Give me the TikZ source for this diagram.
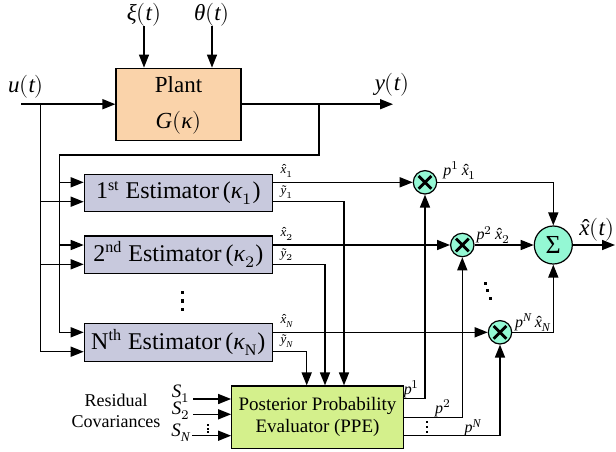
\documentclass[tikz,border=0pt]{standalone}
\usepackage{fontspec}
\usepackage{unicode-math}
\setmainfont{Liberation Serif}
\setmathfont{Latin Modern Math}
\setmathfont[range={it/{latin,Latin,greek,Greek}->up}]{Liberation Serif Italic}
\usetikzlibrary{arrows.meta}
\definecolor{plantc}{RGB}{250,211,170}
\definecolor{estc}{RGB}{200,201,221}
\definecolor{ppec}{RGB}{212,240,140}
\definecolor{circc}{RGB}{148,248,212}
\newcommand{\hatit}[1]{\hbox{\ooalign{$#1$\cr\hidewidth\kern0.12em\char"02C6\hidewidth\cr}}}
\newcommand{\tildeit}[1]{\hbox{\ooalign{$#1$\cr\hidewidth\kern0.12em\char"02DC\hidewidth\cr}}}
\begin{document}
\begin{tikzpicture}[x=0.5pt,y=-0.5pt,
  wire/.style={line width=0.75pt},
  arr/.style={wire,-{Triangle[length=6.5pt,width=5pt]}},
  plantbox/.style={draw,line width=0.6pt,fill=plantc,minimum width=62.5pt,minimum height=36pt,inner sep=0pt},
  estbox/.style={draw,line width=0.6pt,fill=estc,minimum width=94pt,minimum height=18.7pt,inner sep=0pt,font=\fontsize{12}{14}\selectfont},
  ppebox/.style={draw,line width=0.6pt,fill=ppec,minimum width=85.8pt,minimum height=31.2pt,inner sep=0pt,align=center,font=\fontsize{9.5}{10.8}\selectfont},
  mult/.style={circle,draw,line width=0.6pt,fill=circc,minimum size=11.7pt,inner sep=0pt,
    path picture={\draw[line width=1.4pt]
      ([shift={(-3.2pt,-3.2pt)}]path picture bounding box.center) -- ([shift={(3.2pt,3.2pt)}]path picture bounding box.center)
      ([shift={(-3.2pt,3.2pt)}]path picture bounding box.center) -- ([shift={(3.2pt,-3.2pt)}]path picture bounding box.center);}},
  sumnode/.style={circle,draw,line width=0.6pt,fill=circc,minimum size=19pt,inner sep=0pt,font=\fontsize{13}{14}\selectfont},
  biglbl/.style={inner sep=0pt,font=\fontsize{11.5}{13}\selectfont},
  slbl/.style={inner sep=0pt,font=\fontsize{9.5}{11}\selectfont},
  smalllbl/.style={inner sep=0pt,font=\fontsize{6.5}{8}\selectfont},
  plbl/.style={inner sep=0pt,font=\fontsize{8}{9}\selectfont},
  txtlbl/.style={inner sep=0pt,align=center,font=\fontsize{9}{10.8}\selectfont}
]
\useasboundingbox (0,0) rectangle (616,451);

% blocks
\node[plantbox] (plant) at (178.5,104.2) {};
\node[biglbl] (plantT) at (178.5,85) {Plant};
\node[biglbl] (plantG) at (178.5,123) {$G(\kappa)$};

\node[estbox] (e1) at (178.3,193) {1\textsuperscript{st} Estimator\,($\kappa_1$)};
\node[estbox] (e2) at (178.3,254.7) {2\textsuperscript{nd} Estimator\,($\kappa_2$)};
\node[estbox] (eN) at (178.3,342.5) {N\textsuperscript{th} Estimator\,($\kappa_{\mathrm{N}}$)};

\node[ppebox] (ppe) at (317.5,417.2) {Posterior Probability\\Evaluator (PPE)};

\node[mult] (m1) at (425,182.3) {};
\node[mult] (m2) at (462.3,245) {};
\node[mult] (mN) at (500,332.3) {};
\node[sumnode] (sum) at (553.3,245) {Σ};

% labels
\node[biglbl] (lu) at (26,87) {$u(t)$};
\node[biglbl] (ly) at (392,85) {$y(t)$};
\node[biglbl] (lxi) at (144,15) {$\xi(t)$};
\node[biglbl] (lth) at (212,15) {$\theta(t)$};
\node[biglbl] (lx) at (596.7,230) {$\hatit{x}(t)$};

\node[smalllbl] (lx1) at (287,172.5) {$\hatit{x}_1$};
\node[smalllbl] (ly1) at (287,193.5) {$\tildeit{y}_1$};
\node[smalllbl] (lx2) at (287,235.5) {$\hatit{x}_2$};
\node[smalllbl] (ly2) at (287,256) {$\tildeit{y}_2$};
\node[smalllbl] (lxN) at (287,322.5) {$\hatit{x}_N$};
\node[smalllbl] (lyN) at (287,342.5) {$\tildeit{y}_N$};

\node[plbl] (lp1x) at (460,170.7) {$p^{1}\,\hatit{x}_1$};
\node[plbl] (lp2x) at (493.3,235) {$p^{2}\,\hatit{x}_2$};
\node[plbl] (lpNx) at (533,322.7) {$p^{N}\,\hatit{x}_N$};
\node[plbl] (lp1) at (411.7,389.3) {$p^{1}$};
\node[plbl] (lp2) at (443,408) {$p^{2}$};
\node[plbl] (lpN) at (473,427.7) {$p^{N}$};

\node[slbl] (ls1) at (181,394) {$S_1$};
\node[slbl] (ls2) at (181,411) {$S_2$};
\node[slbl] (lsN) at (181,433) {$S_N$};
\node[txtlbl] (lres) at (116,410.8) {Residual\\Covariances};

% coordinates
\coordinate (us) at (21,104.2);
\coordinate (ub) at (40.7,104.2);
\coordinate (yb) at (319,104.2);
\coordinate (ye) at (393,104.2);
\coordinate (yc) at (319,155);
\coordinate (yl) at (59.3,155);
\coordinate (a1) at (59.3,182.3);
\coordinate (b1) at (40.7,201.7);
\coordinate (a2) at (59.3,245);
\coordinate (b2) at (40.7,264.3);
\coordinate (aN) at (59.3,332.3);
\coordinate (bN) at (40.7,351.7);
\coordinate (xi) at (144,26);
\coordinate (th) at (212,26);

% plant connections
\draw[arr] (us) -- (plant.west);
\draw[arr] (plant.east) -- (ye);
\draw[arr] (xi) -- (xi |- plant.north);
\draw[arr] (th) -- (th |- plant.north);
\draw[wire] (yb) -- (yc) -- (yl) -- (aN);
\draw[wire] (ub) -- (bN);

% estimator inputs
\draw[arr] (a1) -- (a1 -| e1.west);
\draw[arr] (b1) -- (b1 -| e1.west);
\draw[arr] (a2) -- (a2 -| e2.west);
\draw[arr] (b2) -- (b2 -| e2.west);
\draw[arr] (aN) -- (aN -| eN.west);
\draw[arr] (bN) -- (bN -| eN.west);

% estimator outputs
\coordinate (d1) at (344,201.7);
\coordinate (d2) at (325,264.3);
\coordinate (dN) at (306.7,351.7);
\draw[arr] (a1 -| e1.east) -- (m1.west);
\draw[arr] (a2 -| e2.east) -- (m2.west);
\draw[arr] (aN -| eN.east) -- (mN.west);
\draw[arr] (b1 -| e1.east) -- (d1) -- (d1 |- ppe.north);
\draw[arr] (b2 -| e2.east) -- (d2) -- (d2 |- ppe.north);
\draw[arr] (bN -| eN.east) -- (dN) -- (dN |- ppe.north);

% multipliers to sum
\coordinate (c1) at (553.3,182.3);
\coordinate (cN) at (553.3,332.3);
\coordinate (xo) at (615,245);
\draw[arr] (m1.east) -- (c1) -- (sum.north);
\draw[arr] (m2.east) -- (sum.west);
\draw[arr] (mN.east) -- (cN) -- (sum.south);
\draw[arr] (sum.east) -- (xo);

% PPE outputs
\coordinate (q1) at (425,398.3);
\coordinate (q2) at (462.3,417.3);
\coordinate (qN) at (500,435.7);
\draw[arr] (q1 -| ppe.east) -- (q1) -- (m1.south);
\draw[arr] (q2 -| ppe.east) -- (q2) -- (m2.south);
\draw[arr] (qN -| ppe.east) -- (qN) -- (mN.south);

% residual inputs
\coordinate (r1) at (193,399);
\coordinate (r2) at (193,414.3);
\coordinate (rN) at (192,435.7);
\draw[arr] (r1) -- (r1 -| ppe.west);
\draw[arr] (r2) -- (r2 -| ppe.west);
\draw[arr] (rN) -- (rN -| ppe.west);

% dots
\foreach \yy in {291,299.3,307.6} \fill (180.6,\yy) rectangle ++(3.4,3.4);
\foreach \yy in {424,427.7,431.4} \fill (207,\yy) rectangle ++(2,2);
\foreach \yy in {420.5,425.7,430.9} \fill (425.5,\yy) rectangle ++(2.4,2.4);
\foreach \xx/\yy in {483.5/281.5,486/289,488.5/296.5} \fill (\xx,\yy) rectangle ++(3,3);
\end{tikzpicture}
\end{document}
